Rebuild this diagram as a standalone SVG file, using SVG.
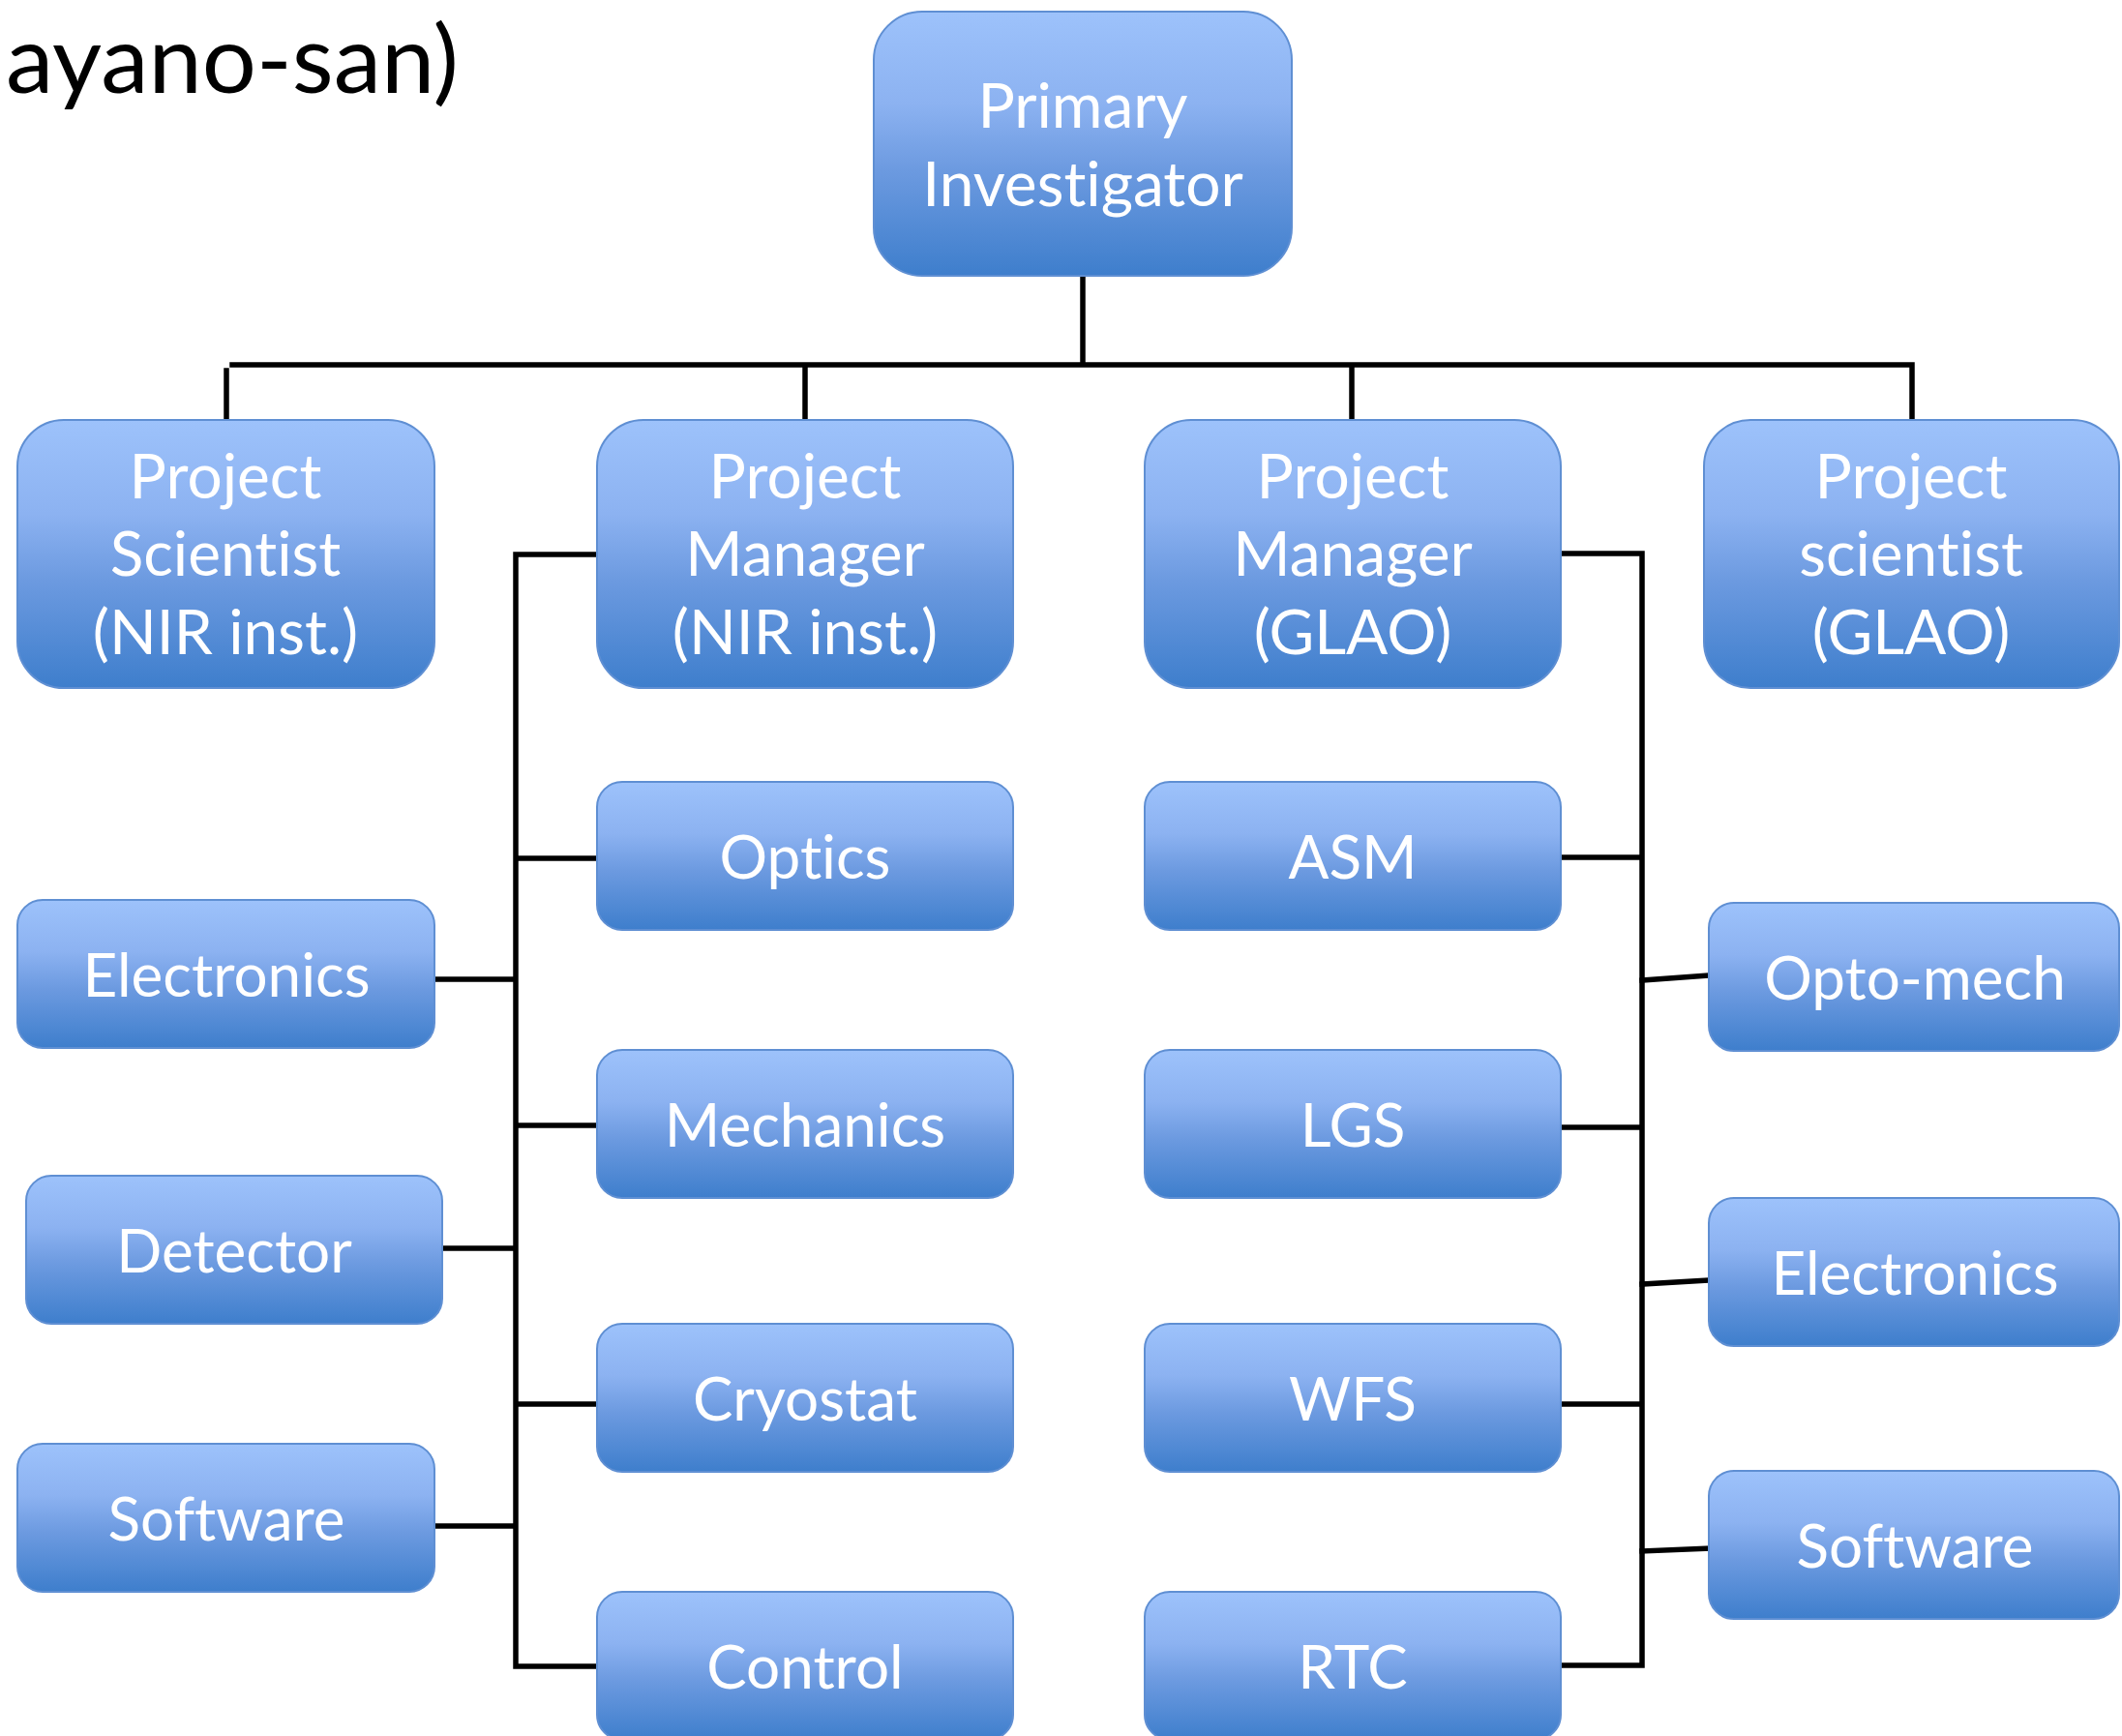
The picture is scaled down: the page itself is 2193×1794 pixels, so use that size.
<svg xmlns="http://www.w3.org/2000/svg" width="2193" height="1794" viewBox="0 0 2193 1794">
<defs>
<linearGradient id="g" x1="0" y1="0" x2="0" y2="1">
<stop offset="0" stop-color="#9DC2FB"/>
<stop offset="0.35" stop-color="#8CB2F1"/>
<stop offset="0.6" stop-color="#6C9AE0"/>
<stop offset="1" stop-color="#3E7ECC"/>
</linearGradient>
<style>
.b{fill:url(#g);stroke:#5F8FD3;stroke-width:2}
.t{font-family:Lato,"Open Sans","Liberation Sans",sans-serif;fill:#FFFFFF;text-anchor:middle;font-size:64px;font-variant-ligatures:none}
.s{font-size:62px}
.c{fill:none;stroke:#000000;stroke-width:5.5;stroke-linecap:square;stroke-linejoin:miter}
</style>
</defs>
<rect width="2193" height="1794" fill="#FFFFFF"/>
<text x="6" y="96" font-family="Lato,'Open Sans','Liberation Sans',sans-serif" font-size="96" fill="#000000" textLength="468" lengthAdjust="spacingAndGlyphs" style="font-variant-ligatures:none">ayano-san)</text>
<g id="connectors">
<path class="c" d="M1119 287V377M240 377H1976V434M234 383V434M832 377V434M1397 377V434"/>
<path class="c" d="M617 573H533V1722H617M533 887H617M533 1163H617M533 1451H617M449 1012H533M457 1290H533M449 1577H533"/>
<path class="c" d="M1613 572H1697V1721H1613M1613 886H1697M1613 1165H1697M1613 1451H1697"/>
<path class="c" d="M1697 1013L1766 1008M1697 1327L1766 1323M1697 1603L1766 1600"/>
</g>
<g id="pi"><rect class="b" x="903" y="12" width="432" height="273" rx="50"/><text class="t" x="1119" y="132">Primary</text><text class="t" x="1119" y="213">Investigator</text></g>
<g id="ps-nir"><rect class="b" x="18" y="434" width="431" height="277" rx="48"/><text class="t" x="233" y="515">Project</text><text class="t" x="233" y="595">Scientist</text><text class="t" x="233" y="676">(NIR inst.)</text></g>
<g id="pm-nir"><rect class="b" x="617" y="434" width="430" height="277" rx="48"/><text class="t" x="832" y="515">Project</text><text class="t" x="832" y="595">Manager</text><text class="t" x="832" y="676">(NIR inst.)</text></g>
<g id="pm-glao"><rect class="b" x="1183" y="434" width="430" height="277" rx="48"/><text class="t" x="1398" y="515">Project</text><text class="t" x="1398" y="595">Manager</text><text class="t" x="1398" y="676">(GLAO)</text></g>
<g id="ps-glao"><rect class="b" x="1761" y="434" width="429" height="277" rx="48"/><text class="t" x="1975" y="515">Project</text><text class="t" x="1975" y="595">scientist</text><text class="t" x="1975" y="676">(GLAO)</text></g>
<g id="optics"><rect class="b" x="617" y="808" width="430" height="153" rx="26"/><text class="t s" x="832" y="908">Optics</text></g>
<g id="mechanics"><rect class="b" x="617" y="1085" width="430" height="153" rx="26"/><text class="t s" x="832" y="1185">Mechanics</text></g>
<g id="cryostat"><rect class="b" x="617" y="1368" width="430" height="153" rx="26"/><text class="t s" x="832" y="1468">Cryostat</text></g>
<g id="control"><rect class="b" x="617" y="1645" width="430" height="153" rx="26"/><text class="t s" x="832" y="1745">Control</text></g>
<g id="asm"><rect class="b" x="1183" y="808" width="430" height="153" rx="26"/><text class="t s" x="1398" y="908">ASM</text></g>
<g id="lgs"><rect class="b" x="1183" y="1085" width="430" height="153" rx="26"/><text class="t s" x="1398" y="1185">LGS</text></g>
<g id="wfs"><rect class="b" x="1183" y="1368" width="430" height="153" rx="26"/><text class="t s" x="1398" y="1468">WFS</text></g>
<g id="rtc"><rect class="b" x="1183" y="1645" width="430" height="153" rx="26"/><text class="t s" x="1398" y="1745">RTC</text></g>
<g id="electronics-nir"><rect class="b" x="18" y="930" width="431" height="153" rx="26"/><text class="t s" x="234" y="1030">Electronics</text></g>
<g id="detector"><rect class="b" x="27" y="1215" width="430" height="153" rx="26"/><text class="t s" x="242" y="1315">Detector</text></g>
<g id="software-nir"><rect class="b" x="18" y="1492" width="431" height="153" rx="26"/><text class="t s" x="234" y="1592">Software</text></g>
<g id="opto-mech"><rect class="b" x="1766" y="933" width="424" height="153" rx="26"/><text class="t s" x="1979" y="1033">Opto-mech</text></g>
<g id="electronics-glao"><rect class="b" x="1766" y="1238" width="424" height="153" rx="26"/><text class="t s" x="1979" y="1338">Electronics</text></g>
<g id="software-glao"><rect class="b" x="1766" y="1520" width="424" height="153" rx="26"/><text class="t s" x="1979" y="1620">Software</text></g>
</svg>
